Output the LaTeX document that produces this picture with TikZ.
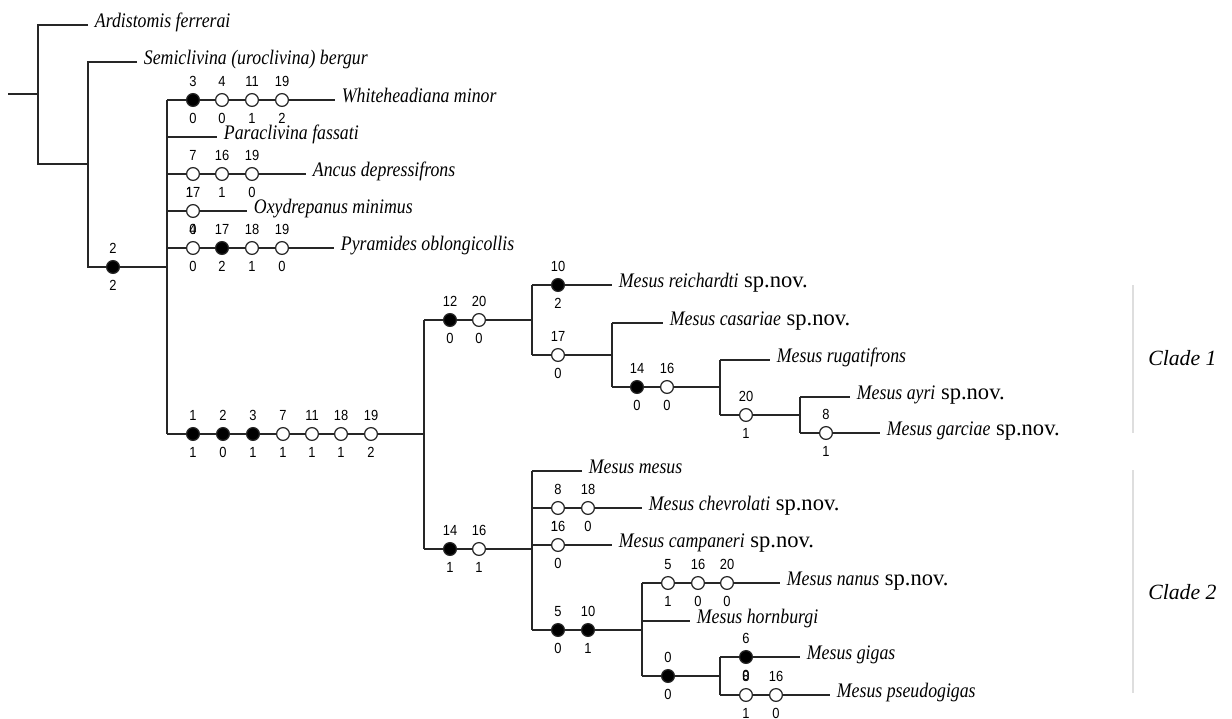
\documentclass[tikz,border=0pt]{standalone}
\usepackage{fontspec}
\setmainfont{Liberation Serif}
\newfontfamily\taxfont[FakeStretch=0.86]{Liberation Serif}
\newfontfamily\numfont[FakeStretch=0.88]{Liberation Sans}
\tikzset{
 ln/.style={line width=1pt, draw=black!85},
 oc/.style={circle, draw=black!85, line width=0.9pt, fill=white, inner sep=0pt, minimum size=9.6pt},
 fc/.style={oc, fill=black},
 num/.style={font=\numfont\fontsize{11}{12}\selectfont, inner sep=0pt, text height=7.9pt, text depth=0pt},
 up/.style={label={[num,label distance=4.6pt]above:#1}},
 dn/.style={label={[num,label distance=4.6pt]below:#1}},
 dnl/.style={label={[num,label distance=4.6pt,xshift=-2.6pt]below:#1}},
 tax/.style={anchor=base west, inner sep=0pt, xshift=5pt, yshift=-2pt, font=\fontsize{16.9}{18}\selectfont},
 cladeline/.style={draw=black!13, line width=0.8pt},
 cladetext/.style={anchor=west, inner sep=0pt, font=\fontsize{16.3}{18}\selectfont\itshape},
}
\newcommand\tx[1]{{\taxfont\fontsize{15.5}{18}\selectfont\itshape #1}}
\begin{document}
\begin{tikzpicture}[x=0.75pt,y=-0.75pt]
\useasboundingbox (0,0) rectangle (1232,718);
% ---------- root and outgroups
\coordinate (r0) at (8,94);
\coordinate (r1) at (38,94);
\coordinate (r1t) at (38,25);
\coordinate (r1b) at (38,164);
\coordinate (aE) at (88,25);
\coordinate (n2m) at (88,164);
\coordinate (n2t) at (88,62);
\coordinate (n2b) at (88,267);
\coordinate (sE) at (137,62);
\node[fc,up=2,dn=2] (c2) at (113,267) {};
\coordinate (n3) at (167,267);
\coordinate (n3t) at (167,100);
\coordinate (n3b) at (167,434);
\draw[ln] (r0) -- (r1);
\draw[ln] (aE) -- (r1t) -- (r1b) -- (n2m);
\draw[ln] (sE) -- (n2t) -- (n2b) -- (c2) -- (n3);
\draw[ln] (n3t) -- (n3b);
\node[tax] (tA) at (aE) {\tx{Ardistomis ferrerai}};
\node[tax] (tS) at (sE) {\tx{Semiclivina (uroclivina) bergur}};
% ---------- Whiteheadiana
\node[fc,up=3,dn=0] (w1) at (193,100) {};
\node[oc,up=4,dn=0] (w2) at (222,100) {};
\node[oc,up=11,dn=1] (w3) at (252,100) {};
\node[oc,up=19,dn=2] (w4) at (282,100) {};
\coordinate (wE) at (335,100);
\draw[ln] (n3t) -- (w1) -- (w2) -- (w3) -- (w4) -- (wE);
\node[tax] (tW) at (wE) {\tx{Whiteheadiana minor}};
% ---------- Paraclivina
\coordinate (pS) at (167,137);
\coordinate (pE) at (217,137);
\draw[ln] (pS) -- (pE);
\node[tax] (tP) at (pE) {\tx{Paraclivina fassati}};
% ---------- Ancus
\coordinate (anS) at (167,174);
\node[oc,up=7,dnl=1] (an1) at (193,174) {};
\node[oc,up=16,dn=1] (an2) at (222,174) {};
\node[oc,up=19,dn=0] (an3) at (252,174) {};
\coordinate (anE) at (306,174);
\draw[ln] (anS) -- (an1) -- (an2) -- (an3) -- (anE);
\node[tax] (tAn) at (anE) {\tx{Ancus depressifrons}};
% ---------- Oxydrepanus
\coordinate (oS) at (167,211);
\node[oc,up=17,dn=0] (o1) at (193,211) {};
\coordinate (oE) at (247,211);
\draw[ln] (oS) -- (o1) -- (oE);
\node[tax] (tO) at (oE) {\tx{Oxydrepanus minimus}};
% ---------- Pyramides
\coordinate (pyS) at (167,248);
\node[oc,up=4,dn=0] (py1) at (193,248) {};
\node[fc,up=17,dn=2] (py2) at (222,248) {};
\node[oc,up=18,dn=1] (py3) at (252,248) {};
\node[oc,up=19,dn=0] (py4) at (282,248) {};
\coordinate (pyE) at (334,248);
\draw[ln] (pyS) -- (py1) -- (py2) -- (py3) -- (py4) -- (pyE);
\node[tax] (tPy) at (pyE) {\tx{Pyramides oblongicollis}};
% ---------- Mesus stem
\node[fc,up=1,dn=1] (m1) at (193,434) {};
\node[fc,up=2,dn=0] (m2) at (223,434) {};
\node[fc,up=3,dn=1] (m3) at (253,434) {};
\node[oc,up=7,dn=1] (m4) at (283,434) {};
\node[oc,up=11,dn=1] (m5) at (312,434) {};
\node[oc,up=18,dn=1] (m6) at (341,434) {};
\node[oc,up=19,dn=2] (m7) at (371,434) {};
\coordinate (mE) at (424,434);
\coordinate (mT) at (424,320);
\coordinate (mB) at (424,549);
\draw[ln] (n3b) -- (m1) -- (m2) -- (m3) -- (m4) -- (m5) -- (m6) -- (m7) -- (mE);
\draw[ln] (mT) -- (mB);
% ---------- Clade 1
\node[fc,up=12,dn=0] (a1) at (450,320) {};
\node[oc,up=20,dn=0] (a2) at (479,320) {};
\coordinate (aJ) at (532,320);
\coordinate (aT) at (532,285);
\coordinate (aB) at (532,355);
\draw[ln] (mT) -- (a1) -- (a2) -- (aJ);
\draw[ln] (aT) -- (aB);
\node[fc,up=10,dn=2] (re1) at (558,285) {};
\coordinate (reE) at (612,285);
\draw[ln] (aT) -- (re1) -- (reE);
\node[tax] (tRe) at (reE) {\tx{Mesus reichardti} sp.nov.};
\node[oc,up=17,dn=0] (b1) at (558,355) {};
\coordinate (bJ) at (612,355);
\coordinate (bT) at (612,323);
\coordinate (bB) at (612,387);
\draw[ln] (aB) -- (b1) -- (bJ);
\draw[ln] (bT) -- (bB);
\coordinate (caE) at (663,323);
\draw[ln] (bT) -- (caE);
\node[tax] (tCa) at (caE) {\tx{Mesus casariae} sp.nov.};
\node[fc,up=14,dn=0] (c1) at (637,387) {};
\node[oc,up=16,dn=0] (c3) at (667,387) {};
\coordinate (cJ) at (720,387);
\coordinate (cT) at (720,360);
\coordinate (cB) at (720,415);
\draw[ln] (bB) -- (c1) -- (c3) -- (cJ);
\draw[ln] (cT) -- (cB);
\coordinate (ruE) at (770,360);
\draw[ln] (cT) -- (ruE);
\node[tax] (tRu) at (ruE) {\tx{Mesus rugatifrons}};
\node[oc,up=20,dn=1] (d1) at (746,415) {};
\coordinate (dJ) at (800,415);
\coordinate (dT) at (800,397);
\coordinate (dB) at (800,433);
\draw[ln] (cB) -- (d1) -- (dJ);
\draw[ln] (dT) -- (dB);
\coordinate (ayE) at (850,397);
\draw[ln] (dT) -- (ayE);
\node[tax] (tAy) at (ayE) {\tx{Mesus ayri} sp.nov.};
\node[oc,up=8,dn=1] (g1) at (826,433) {};
\coordinate (gaE) at (880,433);
\draw[ln] (dB) -- (g1) -- (gaE);
\node[tax] (tGa) at (gaE) {\tx{Mesus garciae} sp.nov.};
% ---------- Clade 2
\node[fc,up=14,dn=1] (e1) at (450,549) {};
\node[oc,up=16,dn=1] (e2) at (479,549) {};
\coordinate (eJ) at (532,549);
\coordinate (eT) at (532,471);
\coordinate (eB) at (532,630);
\draw[ln] (mB) -- (e1) -- (e2) -- (eJ);
\draw[ln] (eT) -- (eB);
\coordinate (meE) at (582,471);
\draw[ln] (eT) -- (meE);
\node[tax] (tMe) at (meE) {\tx{Mesus mesus}};
\coordinate (chS) at (532,508);
\node[oc,up=8,dnl=1] (ch1) at (558,508) {};
\node[oc,up=18,dn=0] (ch2) at (588,508) {};
\coordinate (chE) at (642,508);
\draw[ln] (chS) -- (ch1) -- (ch2) -- (chE);
\node[tax] (tCh) at (chE) {\tx{Mesus chevrolati} sp.nov.};
\coordinate (cmS) at (532,545);
\node[oc,up=16,dn=0] (cm1) at (558,545) {};
\coordinate (cmE) at (612,545);
\draw[ln] (cmS) -- (cm1) -- (cmE);
\node[tax] (tCm) at (cmE) {\tx{Mesus campaneri} sp.nov.};
\node[fc,up=5,dn=0] (f1) at (558,630) {};
\node[fc,up=10,dn=1] (f2) at (588,630) {};
\coordinate (fJ) at (642,630);
\coordinate (fT) at (642,583);
\coordinate (fB) at (642,676);
\draw[ln] (eB) -- (f1) -- (f2) -- (fJ);
\draw[ln] (fT) -- (fB);
\node[oc,up=5,dn=1] (na1) at (668,583) {};
\node[oc,up=16,dn=0] (na2) at (698,583) {};
\node[oc,up=20,dn=0] (na3) at (727,583) {};
\coordinate (naE) at (780,583);
\draw[ln] (fT) -- (na1) -- (na2) -- (na3) -- (naE);
\node[tax] (tNa) at (naE) {\tx{Mesus nanus} sp.nov.};
\coordinate (hoS) at (642,621);
\coordinate (hoE) at (690,621);
\draw[ln] (hoS) -- (hoE);
\node[tax] (tHo) at (hoE) {\tx{Mesus hornburgi}};
\node[fc,up=0,dn=0] (h1) at (668,676) {};
\coordinate (hJ) at (720,676);
\coordinate (hT) at (720,657);
\coordinate (hB) at (720,695);
\draw[ln] (fB) -- (h1) -- (hJ);
\draw[ln] (hT) -- (hB);
\node[fc,up=6,dn=0] (gi1) at (746,657) {};
\coordinate (giE) at (800,657);
\draw[ln] (hT) -- (gi1) -- (giE);
\node[tax] (tGi) at (giE) {\tx{Mesus gigas}};
\node[oc,up=8,dn=1] (ps1) at (746,695) {};
\node[oc,up=16,dn=0] (ps2) at (776,695) {};
\coordinate (psE) at (830,695);
\draw[ln] (hB) -- (ps1) -- (ps2) -- (psE);
\node[tax] (tPs) at (psE) {\tx{Mesus pseudogigas}};
% ---------- clade markers
\coordinate (k1t) at (1133,285);
\coordinate (k1b) at (1133,433);
\coordinate (k2t) at (1133,470);
\coordinate (k2b) at (1133,693);
\draw[cladeline] (k1t) -- (k1b);
\draw[cladeline] (k2t) -- (k2b);
\node[cladetext] (cl1) at (1148,358) {Clade 1};
\node[cladetext] (cl2) at (1148,592) {Clade 2};
\end{tikzpicture}
\end{document}
